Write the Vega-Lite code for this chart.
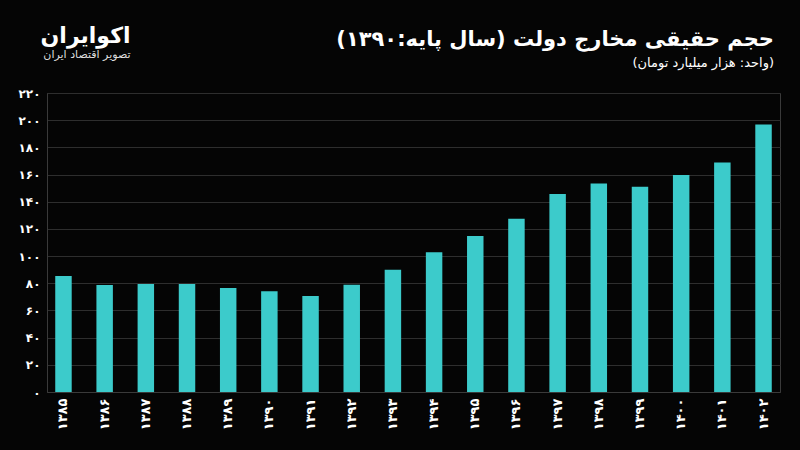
{
  "$schema": "https://vega.github.io/schema/vega-lite/v6.json",
  "width": 733,
  "height": 299,
  "autosize": "none",
  "padding": {"left": 47, "top": 93, "right": 20, "bottom": 58},
  "background": "#050505",
  "title": {
    "text": "\u200fحجم حقیقی مخارج دولت (سال پایه:۱۳۹۰)\u200f",
    "subtitle": "\u200f(واحد: هزار میلیارد تومان)\u200f",
    "anchor": "end",
    "frame": "group",
    "font": "DejaVu Sans",
    "fontSize": 21,
    "fontWeight": "bold",
    "color": "#ffffff",
    "subtitleFont": "DejaVu Sans",
    "subtitleFontSize": 13,
    "subtitleFontWeight": "normal",
    "subtitleColor": "#ffffff",
    "subtitlePadding": 7,
    "offset": -46,
    "dx": -6
  },
  "data": {
    "values": [
      {"year": "۱۳۸۵", "value": 85.4},
      {"year": "۱۳۸۶", "value": 78.7},
      {"year": "۱۳۸۷", "value": 79.5},
      {"year": "۱۳۸۸", "value": 79.5},
      {"year": "۱۳۸۹", "value": 76.5},
      {"year": "۱۳۹۰", "value": 74.1},
      {"year": "۱۳۹۱", "value": 70.6},
      {"year": "۱۳۹۲", "value": 79.0},
      {"year": "۱۳۹۳", "value": 90.0},
      {"year": "۱۳۹۴", "value": 102.9},
      {"year": "۱۳۹۵", "value": 114.7},
      {"year": "۱۳۹۶", "value": 127.5},
      {"year": "۱۳۹۷", "value": 145.7},
      {"year": "۱۳۹۸", "value": 153.5},
      {"year": "۱۳۹۹", "value": 151.0},
      {"year": "۱۴۰۰", "value": 159.7},
      {"year": "۱۴۰۱", "value": 168.8},
      {"year": "۱۴۰۲", "value": 196.8}
    ]
  },
  "mark": {"type": "bar", "color": "#3CCBCB"},
  "encoding": {
    "x": {
      "field": "year",
      "type": "ordinal",
      "sort": null,
      "scale": {"paddingInner": 0.6, "paddingOuter": 0.2},
      "axis": {
        "title": "تصویر اقتصاد ایران",
        "titleFont": "DejaVu Sans",
        "titleFontSize": 11,
        "titleFontWeight": "normal",
        "titleColor": "#dddddd",
        "titleAngle": 0,
        "titleAlign": "right",
        "titleBaseline": "alphabetic",
        "titleX": 83,
        "titleY": -335,
        "labelAngle": -90,
        "labelFont": "DejaVu Sans",
        "labelFontSize": 13,
        "labelFontWeight": "bold",
        "labelColor": "#ffffff",
        "labelPadding": 6,
        "ticks": false,
        "domainColor": "#3a3a3a"
      }
    },
    "y": {
      "field": "value",
      "type": "quantitative",
      "scale": {"domain": [0, 220], "nice": false},
      "axis": {
        "title": "اکوایران",
        "titleFont": "DejaVu Sans",
        "titleFontSize": 22,
        "titleFontWeight": "bold",
        "titleColor": "#ffffff",
        "titleAngle": 0,
        "titleAlign": "right",
        "titleBaseline": "alphabetic",
        "titleX": 83,
        "titleY": -51,
        "values": [0, 20, 40, 60, 80, 100, 120, 140, 160, 180, 200, 220],
        "labelExpr": "replace(replace(replace(replace(replace(replace(replace(replace(replace(replace(datum.label, regexp('0','g'), '۰'), regexp('1','g'), '۱'), regexp('2','g'), '۲'), regexp('3','g'), '۳'), regexp('4','g'), '۴'), regexp('5','g'), '۵'), regexp('6','g'), '۶'), regexp('7','g'), '۷'), regexp('8','g'), '۸'), regexp('9','g'), '۹')",
        "labelFont": "DejaVu Sans",
        "labelFontSize": 12,
        "labelFontWeight": "bold",
        "labelColor": "#ffffff",
        "labelPadding": 7,
        "ticks": false,
        "domainColor": "#3a3a3a",
        "gridColor": "#2e2e2e"
      }
    }
  },
  "config": {
    "view": {"stroke": "#3a3a3a"}
  }
}
